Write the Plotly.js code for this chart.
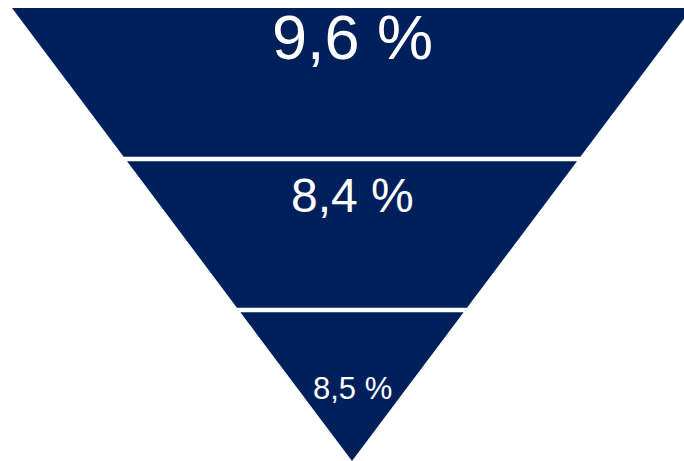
<!DOCTYPE html>
<html>
<head>
<meta charset="utf-8">
<script src="https://cdn.plot.ly/plotly-3.0.1.min.js"></script>
<style>
  html, body { margin: 0; padding: 0; background: #ffffff; overflow: hidden; }
  #chart { width: 684px; height: 461px; }
</style>
</head>
<body>
<div id="chart"></div>
<script>
// ---- data ----
const stages = ['Stufe 1', 'Stufe 2', 'Stufe 3'];
const values = [9.6, 8.4, 8.5];

// ---- style ----
const bandColor = '#00205c';
const gap = 0.03;                       // white gap between bands (band units)
const labelPos = [0.19, 0.24, 0.52];    // label centre within each band (fraction)
const labelSize = [63, 48, 31];

const n = stages.length;
const halfWidth = y => 1 - y / n;       // inverted triangle: full width at top, apex at bottom

const traces = stages.map((s, i) => {
  const yTop = i + (i > 0 ? gap / 2 : 0);
  const yBot = i + 1 - (i < n - 1 ? gap / 2 : 0);
  return {
    type: 'scatter',
    mode: 'lines',
    name: s,
    x: [-halfWidth(yTop), halfWidth(yTop), halfWidth(yBot), -halfWidth(yBot), -halfWidth(yTop)],
    y: [yTop, yTop, yBot, yBot, yTop],
    fill: 'toself',
    fillcolor: bandColor,
    line: { width: 0, color: bandColor },
    hoverinfo: 'skip'
  };
});

const annotations = values.map((v, i) => ({
  x: 0,
  y: i + labelPos[i],
  xref: 'x', yref: 'y',
  text: v.toFixed(1).replace('.', ',') + ' %',
  showarrow: false,
  xanchor: 'center', yanchor: 'middle',
  font: { family: 'Liberation Sans, Arial, sans-serif', size: labelSize[i], color: '#ffffff' }
}));

const layout = {
  width: 684,
  height: 461,
  margin: { l: 0, r: 0, t: 8, b: 0, pad: 0 },
  paper_bgcolor: '#ffffff',
  plot_bgcolor: '#ffffff',
  showlegend: false,
  xaxis: { range: [-352 / 340, 332 / 340], visible: false, fixedrange: true },
  yaxis: { range: [n, 0], visible: false, fixedrange: true },
  annotations: annotations
};

Plotly.newPlot('chart', traces, layout, { staticPlot: true, displayModeBar: false });
</script>
</body>
</html>
